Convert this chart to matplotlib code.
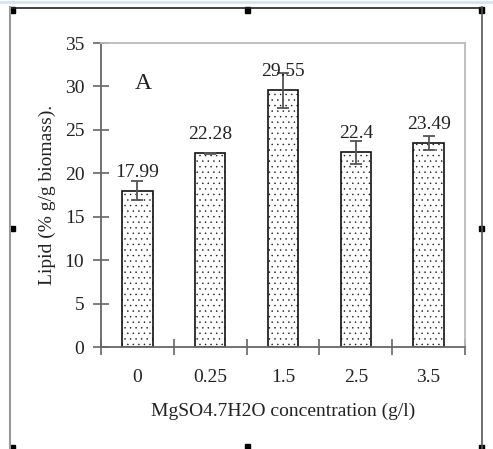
import matplotlib
matplotlib.use("Agg")
import matplotlib.pyplot as plt
from matplotlib.lines import Line2D
from matplotlib.patches import Rectangle
import numpy as np

categories = ["0", "0.25", "1.5", "2.5", "3.5"]
lipid = [17.99, 22.28, 29.55, 22.4, 23.49]
errors = [1.1, 0.05, 2.0, 1.35, 0.8]
labels = ["17.99", "22.28", "29.55", "22.4", "23.49"]
yticks = [0, 5, 10, 15, 20, 25, 30, 35]

plt.rcParams['font.family'] = ['Liberation Serif', 'DejaVu Serif']
plt.rcParams['hatch.color'] = '#8a8a8a'
plt.rcParams['hatch.linewidth'] = 0.3

W, H = 493, 449
fig = plt.figure(figsize=(W / 100, H / 100), dpi=100)

def fx(x):
    return x / W

def fy(y):
    return 1 - y / H

ax = fig.add_axes([fx(101), fy(347), fx(465) - fx(101), fy(43) - fy(347)])

x = np.arange(len(categories))
ax.bar(x, lipid, width=0.42, color='white', edgecolor='#111111', linewidth=1.2,
       hatch='...', zorder=2)
ax.errorbar(x, lipid, yerr=errors, fmt='none', ecolor='#555555', elinewidth=1.3,
            capsize=4, capthick=1.3, zorder=3)
for xi, v, lab in zip(x, lipid, labels):
    ax.annotate(lab, (xi, v), xytext=(0, 14), textcoords='offset pixels',
                ha='center', va='baseline', fontsize=14, color='#222222', zorder=4)

ax.text(0.08, 30.3, "A", fontsize=17, color='#222222', ha='center', va='center')

ax.set_xlim(-0.5, len(categories) - 0.5)
ax.set_ylim(0, 35)
ax.set_yticks(yticks)
ax.set_yticklabels([str(t) for t in yticks], fontsize=14, color='#222222')
ax.set_xticks(x)
ax.set_xticklabels(categories, fontsize=14, color='#222222')
ax.tick_params(axis='x', length=0, pad=16)
ax.set_xticks(np.arange(len(categories) + 1) - 0.5, minor=True)
ax.tick_params(axis='x', which='minor', direction='inout', length=12, width=1.2, color='#666666')
ax.tick_params(axis='y', direction='inout', length=12, width=1.2, color='#666666', pad=6)

for s in ['left', 'bottom']:
    ax.spines[s].set_color('#666666')
    ax.spines[s].set_linewidth(1.3)
for s in ['top', 'right']:
    ax.spines[s].set_color('#bbbbbb')
    ax.spines[s].set_linewidth(1.3)

ax.set_xlabel("MgSO4.7H2O concentration (g/l)", fontsize=14, color='#222222', labelpad=12)
ax.set_ylabel("Lipid (% g/g biomass).", fontsize=14, color='#222222', labelpad=6)

# outer frame
fig.add_artist(Line2D([0, 1], [fy(2), fy(2)], transform=fig.transFigure, color='#d6e4f2', lw=2))
fig.add_artist(Line2D([fx(10), fx(482)], [fy(7.5), fy(7.5)], transform=fig.transFigure, color='#222222', lw=1.2))
fig.add_artist(Line2D([fx(10), fx(10)], [fy(7), fy(449)], transform=fig.transFigure, color='#999999', lw=1.5))
fig.add_artist(Line2D([fx(482), fx(482)], [fy(7), fy(449)], transform=fig.transFigure, color='#555555', lw=1.2))
for hx, hy in [(12, 10), (247, 10), (481, 10), (12, 228), (481, 228),
               (12, 447), (247, 446), (481, 447)]:
    fig.add_artist(Rectangle((fx(hx - 2.5), fy(hy + 2.5)), 5 / W, 5 / H,
                             transform=fig.transFigure, color='black'))

fig.savefig("out.png", dpi=100)
